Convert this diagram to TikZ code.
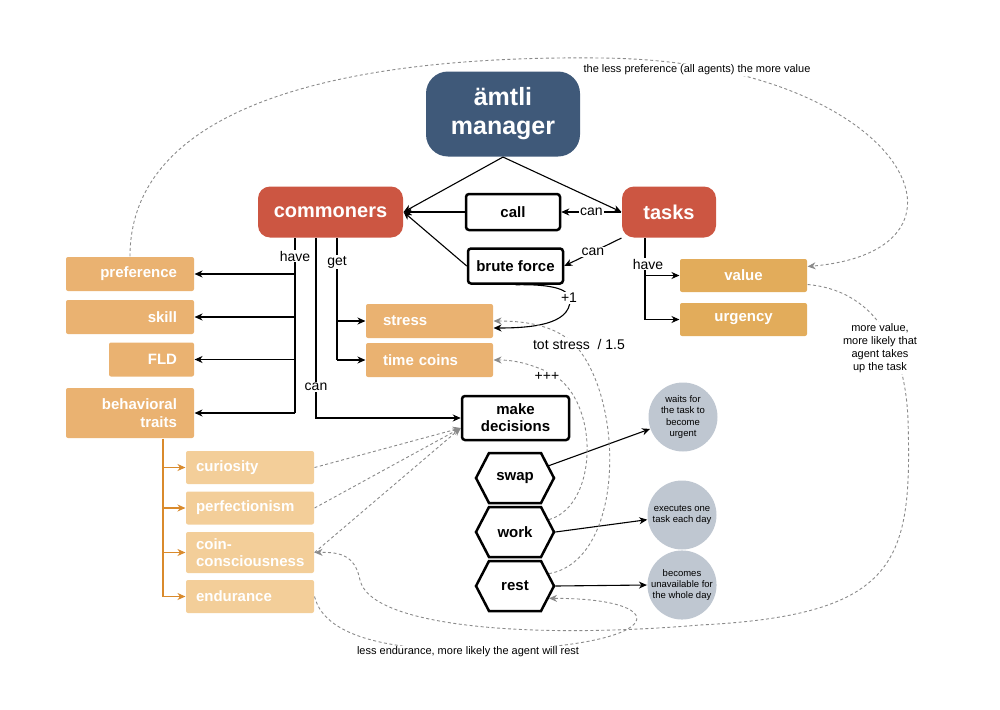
\documentclass[tikz,border=0pt]{standalone}
\usepackage{fontspec}
\setmainfont{Liberation Sans}
\usetikzlibrary{arrows.meta,shapes.symbols}

\definecolor{mgrblue}{HTML}{3F5979}
\definecolor{agentred}{HTML}{CC5642}
\definecolor{attrorange}{HTML}{EAB271}
\definecolor{valorange}{HTML}{E2AC5B}
\definecolor{traitlight}{HTML}{F3CE99}
\definecolor{circgray}{HTML}{BFC7D1}
\definecolor{branchorange}{HTML}{D98A2C}
\definecolor{hintgray}{HTML}{8A8A8A}

\tikzset{
  mgrbox/.style={rounded corners=22pt, fill=mgrblue, text=white, align=center,
    font=\bfseries\fontsize{25}{29}\selectfont, minimum width=154pt, minimum height=85pt},
  agentbox/.style={rounded corners=12pt, fill=agentred, text=white,
    font=\bfseries\fontsize{20}{24}\selectfont, minimum height=51pt},
  actbox/.style={draw, line width=2.5pt, rounded corners=3pt, align=center,
    font=\bfseries\fontsize{15}{17}\selectfont},
  attrbox/.style={fill=attrorange, rounded corners=2pt, text=white, inner xsep=17pt,
    text width=94pt, align=right, minimum height=34pt,
    font=\bfseries\fontsize{15}{18}\selectfont},
  gainbox/.style={attrbox, text width=93pt, align=left},
  valbox/.style={fill=valorange, rounded corners=2pt, text=white, minimum width=127pt,
    minimum height=33pt, font=\bfseries\fontsize{15}{18}\selectfont},
  traitbox/.style={fill=traitlight, rounded corners=2pt, text=white, inner xsep=10pt,
    text width=108pt, align=left, minimum height=33pt,
    font=\bfseries\fontsize{15}{17}\selectfont},
  choice/.style={signal, signal to=east and west, signal pointer angle=125, draw,
    line width=2.5pt, minimum width=78pt, minimum height=50pt, inner sep=0pt,
    font=\bfseries\fontsize{15}{17}\selectfont},
  outcome/.style={circle, fill=circgray, minimum size=69pt, inner sep=0pt, align=center,
    font=\fontsize{9.5}{11.3}\selectfont},
  lbl/.style={fill=white, inner sep=1pt, font=\fontsize{14}{16}\selectfont},
  note/.style={fill=white, inner sep=1pt, align=center, font=\fontsize{11}{13}\selectfont},
  hint/.style={hintgray, line width=0.9pt, dash pattern=on 3pt off 2.5pt,
    -{Stealth[length=8pt,width=7pt,inset=2.5pt]}},
  branch/.style={branchorange, line width=1.1pt}
}

\begin{document}
\begin{tikzpicture}[x=1pt,y=-1pt,line width=1.1pt,>={Stealth[length=8pt,width=7pt,inset=2.5pt]}]
\useasboundingbox (0,0) rectangle (1000,709);

% manager, commoners, tasks
\node[mgrbox] (manager) at (503,114) {ämtli\\manager};
\node[agentbox, minimum width=145pt] (commoners) at (330.5,212) {commoners};
\node[agentbox, minimum width=94pt] (tasks) at (669,212) {tasks};
\node[actbox, minimum width=94pt, minimum height=36pt] (call) at (513,212) {call};
\node[actbox, minimum width=95pt, minimum height=35pt] (brute) at (515.5,266) {brute force};

% what commoners have and get
\node[attrbox] (preference) at (130,274) {preference};
\node[attrbox] (skill) at (130,317) {skill};
\node[attrbox, text width=51pt] (fld) at (151.5,359.5) {FLD};
\node[attrbox, minimum height=50pt] (traits) at (130,413) {behavioral\\traits};
\node[gainbox] (stress) at (429.5,321) {stress};
\node[gainbox] (coins) at (429.5,360) {time coins};

% what tasks have
\node[valbox] (value) at (743.5,275.5) {value};
\node[valbox] (urgency) at (743.5,319.5) {urgency};

% behavioral traits
\foreach \n/\y/\t in {curiosity/467.5/curiosity, perfection/508/perfectionism, endurance/596.5/endurance}
{
   \node[traitbox] (\n) at (250,\y) {\t};
}
\node[traitbox, minimum height=41pt] (coin) at (250,552.5) {coin-\\consciousness};

% decisions
\node[actbox, minimum width=107pt, minimum height=44pt] (decide) at (515.5,418) {make\\decisions};
\node[choice] (swap) at (515,478) {swap};
\node[choice] (work) at (515,532) {work};
\node[choice] (rest) at (515,586) {rest};
\node[outcome] (waits) at (683,417) {waits for\\the task to\\become\\urgent};
\node[outcome] (executes) at (682,515) {executes one\\task each day};
\node[outcome] (unavail) at (682,585) {becomes\\unavailable for\\the whole day};

% solid links
\draw[->] (manager.south) -- (commoners.east);
\draw[->] (manager.south) -- (tasks.west);
\draw[->] (call.west) -- (commoners.east);
\draw[->] (brute.west) -- (commoners.east);
\draw[->] (tasks.west) -- node[lbl] (cancall) {can} (call.east);
\draw[->] (tasks.south west) -- node[lbl] (canbrute) {can} (brute.east);

\coordinate (havefork) at (295,413);
\draw (commoners.south -| havefork) -- (havefork);
\foreach \n in {preference,skill,fld,traits}
{
   \draw[->] (havefork |- \n.east) -- (\n.east);
}
\coordinate (getfork) at (337,360);
\draw (commoners.south -| getfork) -- (getfork);
\foreach \n in {stress,coins}
{
   \draw[->] (getfork |- \n.west) -- (\n.west);
}
\coordinate (canfork) at (316,418);
\draw[->] (commoners.south -| canfork) -- (canfork) -- (decide.west);
\coordinate (taskfork) at (645,319.5);
\draw (tasks.south -| taskfork) -- (taskfork);
\foreach \n in {value,urgency}
{
   \draw[->] (taskfork |- \n.west) -- (\n.west);
}
\coordinate (traitfork) at (163,596.5);
\draw[branch] (traits.south -| traitfork) -- (traitfork);
\foreach \n in {curiosity,perfection,coin,endurance}
{
   \draw[branch,->] (traitfork |- \n.west) -- (\n.west);
}
\draw[->] (brute.south) .. controls (555,284) and (570,290) .. (570,300)
   .. controls (570,325) and (530,328) .. ([yshift=-7pt]stress.east);
\draw[->] (swap.20) -- (waits);
\draw[->] (work.east) -- (executes);
\draw[->] (rest.east) -- (unavail.west);

% dashed influences
\foreach \n in {curiosity,perfection,coin}
{
   \draw[hint] (\n.east) -- ([yshift=-10pt]decide.west);
}
\draw[hint] (preference.north) .. controls (130,110) and (330,55) .. (600,58)
   .. controls (900,60) and (1000,250) .. ([yshift=9pt]value.east);
\draw[hint] ([yshift=-9pt]value.east) .. controls (870,290) and (905,340) .. (908,420)
   .. controls (912,560) and (900,615) .. (700,625)
   .. controls (520,640) and (370,625) .. (360,580)
   .. controls (355,555) and (340,552) .. (coin.east);
\draw[hint] (endurance.east) .. controls (325,640) and (400,650) .. (470,650)
   .. controls (670,650) and (680,598) .. (rest.-20);
\draw[hint] (rest.20) .. controls (625,560) and (625,400) .. (575,345)
   .. controls (555,325) and (525,321) .. (stress.east);
\draw[hint] (work.20) .. controls (600,505) and (600,395) .. (548,372)
   .. controls (530,364) and (515,360) .. (coins.east);

% labels
\node[lbl] (havelbl) at (295,256) {have};
\node[lbl] (getlbl) at (337,262) {get};
\node[lbl] (canlbl) at (316,387) {can};
\node[lbl] (taskhave) at (648,264) {have};
\node[lbl] (plusone) at (569,298) {+1};
\node[lbl] (stresslbl) at (579,344) {tot stress~ / 1.5};
\node[lbl] (coinlbl) at (547,376) {+++};
\node[note] (prefnote) at (697,70) {the less preference (all agents) the more value};
\node[note] (valuenote) at (880,348) {more value,\\more likely that\\agent takes\\up the task};
\node[note] (endnote) at (468,652) {less endurance, more likely the agent will rest};
\end{tikzpicture}
\end{document}
